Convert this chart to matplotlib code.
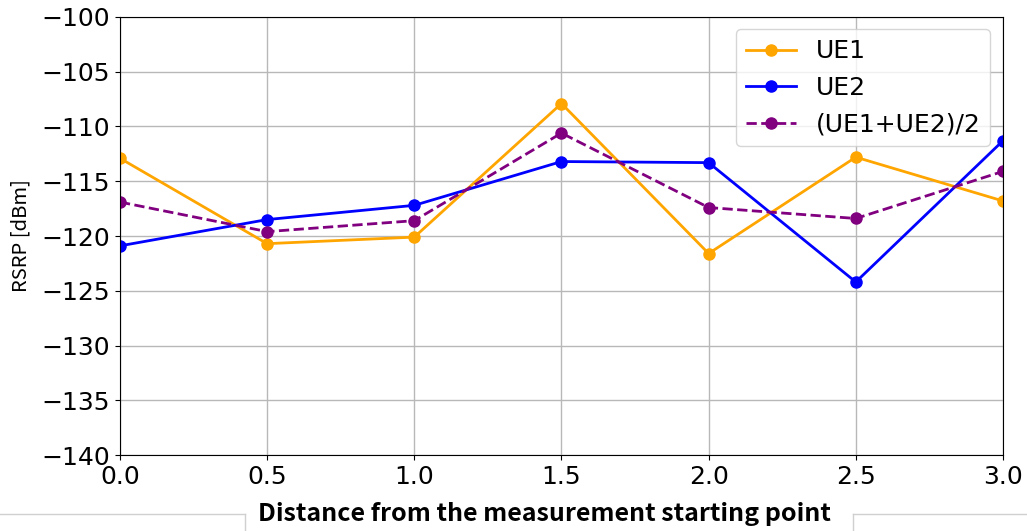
import matplotlib
matplotlib.use('Agg')
import matplotlib.pyplot as plt
from matplotlib.lines import Line2D

# data
distance = [0.0, 0.5, 1.0, 1.5, 2.0, 2.5, 3.0]
ue1 = [-112.9, -120.7, -120.1, -107.9, -121.6, -112.8, -116.8]
ue2 = [-120.9, -118.5, -117.2, -113.2, -113.3, -124.2, -111.3]
ue_avg = [-116.9, -119.6, -118.6, -110.6, -117.4, -118.4, -114.1]

fig = plt.figure(figsize=(10.27, 5.31), dpi=100)
ax = fig.add_axes([0.1168, 0.1431, 0.8598, 0.8249])

ax.plot(distance, ue1, color='orange', marker='o', lw=2, ms=8, label='UE1')
ax.plot(distance, ue2, color='blue', marker='o', lw=2, ms=8, label='UE2')
ax.plot(distance, ue_avg, color='purple', marker='o', lw=2, ms=8,
        ls='--', label='(UE1+UE2)/2')

ax.set_xlim(0, 3)
ax.set_ylim(-140, -100)
ax.set_xticks([0.0, 0.5, 1.0, 1.5, 2.0, 2.5, 3.0])
ax.set_yticks(range(-140, -99, 5))
ax.tick_params(labelsize=18)
ax.grid(True, color='#b8b8b8', lw=1)
ax.legend(fontsize=18, loc='upper right')

ax.set_ylabel('RSRP [dBm]', family=['Noto Sans CJK JP', 'DejaVu Sans'],
              fontsize=14.5)
ax.yaxis.set_label_coords(-0.1, 0.5)

# page frame around the caption
gray = '#d0d0d0'
fig.add_artist(Line2D([0, 245 / 1027], [1 - 514 / 531] * 2, color=gray, lw=1))
fig.add_artist(Line2D([245 / 1027] * 2, [0, 1 - 514 / 531], color=gray, lw=1))
fig.add_artist(Line2D([853 / 1027, 1], [1 - 514 / 531] * 2, color=gray, lw=1))
fig.add_artist(Line2D([853 / 1027] * 2, [0, 1 - 514 / 531], color=gray, lw=1))

fig.text(0.530, 1 - 514 / 531, 'Distance from the measurement starting point',
         family=['Noto Sans CJK JP', 'DejaVu Sans'], weight='bold',
         fontsize=18, ha='center', va='center')

fig.savefig('out.png', dpi=100)
